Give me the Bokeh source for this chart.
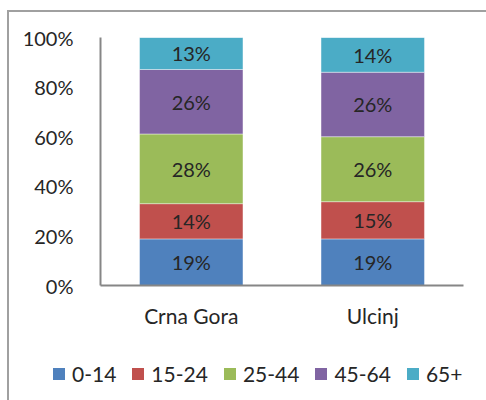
import numpy as np
from bokeh.plotting import figure
from bokeh.layouts import column
from bokeh.models import (ColumnDataSource, FactorRange, Range1d, FixedTicker,
                          PrintfTickFormatter, Div)
from bokeh.core.properties import value
from bokeh.embed import file_html
from bokeh.resources import INLINE

categories = ["Crna Gora", "Ulcinj"]
groups = ["0-14", "15-24", "25-44", "45-64", "65+"]
crna_gora = [18.8, 14.2, 28.1, 26.0, 12.9]
ulcinj = [18.8, 15.0, 26.2, 26.0, 14.0]
crna_gora_labels = ["19%", "14%", "28%", "26%", "13%"]
ulcinj_labels = ["19%", "15%", "26%", "26%", "14%"]
colors = ["#4F81BD", "#C0504D", "#9BBB59", "#8064A2", "#4BACC6"]
y_ticks = [0, 20, 40, 60, 80, 100]

FONT = "Lato"
TXT = "#262626"

data = {"cat": categories}
for i, g in enumerate(groups):
    data[g] = [crna_gora[i], ulcinj[i]]
src = ColumnDataSource(data)

p = figure(width=486, height=340,
           x_range=FactorRange(*categories, range_padding=0),
           y_range=Range1d(0, 100), output_backend="svg", toolbar_location=None,
           min_border_left=100, min_border_right=23,
           min_border_top=37, min_border_bottom=55)
p.border_fill_alpha = 0
p.background_fill_alpha = 0
p.outline_line_color = None
p.xgrid.visible = False
p.ygrid.visible = False

p.vbar_stack(groups, x="cat", width=0.57, source=src, color=colors,
             line_color="white", line_width=0.6, line_alpha=0.7)

# labels
lx, ly, lt = [], [], []
for cat, vals, labs in [(categories[0], crna_gora, crna_gora_labels),
                        (categories[1], ulcinj, ulcinj_labels)]:
    cum = np.cumsum(vals)
    for v, c, t in zip(vals, cum, labs):
        lx.append(cat)
        ly.append(c - v / 2)
        lt.append(t)
p.text(x=lx, y=ly, text=lt, text_align="center", text_baseline="middle",
       text_font=value(FONT), text_font_size="20px", text_color=TXT)

# axes
p.yaxis.ticker = FixedTicker(ticks=y_ticks)
p.yaxis.formatter = PrintfTickFormatter(format="%d%%")
for ax in (p.xaxis[0], p.yaxis[0]):
    ax.axis_line_color = "#868686"
    ax.axis_line_width = 2
    ax.major_tick_line_color = None
    ax.minor_tick_line_color = None
    ax.major_label_text_font = FONT
    ax.major_label_text_color = TXT
p.yaxis.major_label_text_font_size = "20px"
p.xaxis.major_label_text_font_size = "21px"
p.yaxis.major_label_standoff = 21
p.xaxis.major_label_standoff = 11

# legend strip below the chart
entries = []
for g, c in zip(groups, colors):
    entries.append(
        '<span style="display:inline-flex;align-items:center;margin-right:16px;">'
        f'<span style="display:inline-block;width:12px;height:12px;background:{c};'
        f'margin-right:7px;"></span>{g}</span>'
    )
legend_html = (
    '<div style="display:flex;align-items:center;height:58px;padding-left:48px;'
    f'font-family:{FONT};font-size:21px;color:{TXT};white-space:nowrap;">'
    + "".join(entries) + "</div>"
)
lg = Div(text=legend_html, width=486, height=60)

layout = column(p, lg, spacing=0)
layout.styles = {
    "background-color": "white",
    "background-image": "linear-gradient(#A0A0A0,#A0A0A0), linear-gradient(#A0A0A0,#A0A0A0)",
    "background-size": "2px 100%, 100% 2px",
    "background-position": "7px 10px, 7px 10px",
    "background-repeat": "no-repeat",
}

open("out.html", "w").write(file_html(layout, INLINE))
